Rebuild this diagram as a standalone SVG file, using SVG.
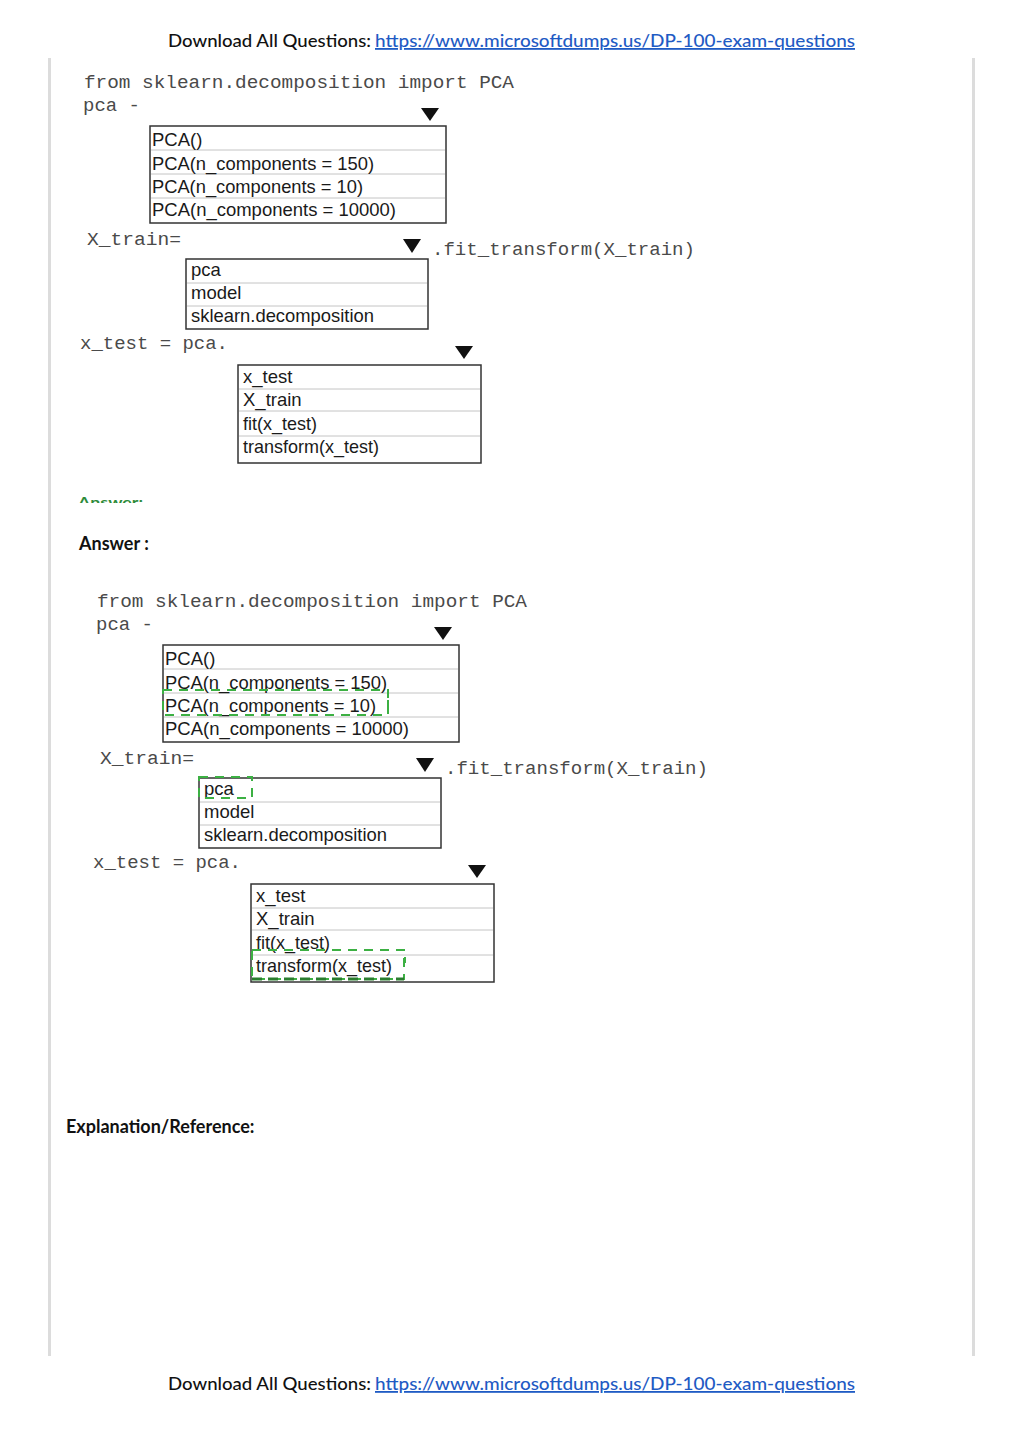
<svg xmlns="http://www.w3.org/2000/svg" width="1024" height="1446" viewBox="0 0 1024 1446">
<style>
.hdr{font-family:Lato,"Open Sans",sans-serif;font-size:18px;font-weight:500;fill:#111;}
.lnk{font-family:Lato,"Open Sans",sans-serif;font-size:18px;font-weight:500;fill:#1f5bc4;text-decoration:underline;}
.code{font-family:"Liberation Mono","Courier New",monospace;font-size:19px;fill:#4a4a4a;}
.opt{font-family:"Liberation Sans",Arial,sans-serif;font-size:18.5px;fill:#1a1a1a;}
.box{fill:#fff;stroke:#333;stroke-width:1.5;}
.sep{stroke:#c4c4c4;stroke-width:1;}
.tri{fill:#111;}
.lbl{font-family:Lato,"Open Sans",sans-serif;font-size:18px;font-weight:bold;fill:#111;}
.hl{fill:none;stroke:#3cb043;stroke-width:2;stroke-dasharray:9 7;}
.tick{stroke:#3cb043;stroke-width:2;}
</style>
<defs>
<clipPath id="cutAns"><rect x="70" y="494" width="90" height="9"/></clipPath>
</defs>
<rect width="1024" height="1446" fill="#fff"/>

<g id="page-frame">
<line x1="49.5" y1="58" x2="49.5" y2="1356" stroke="#dcdcdc" stroke-width="3"/>
<line x1="973.5" y1="58" x2="973.5" y2="1356" stroke="#dcdcdc" stroke-width="3"/>
</g>

<g id="header">
<text class="hdr" x="168" y="47" textLength="203" lengthAdjust="spacingAndGlyphs">Download All Questions:</text>
<text class="lnk" x="375" y="47" textLength="480" lengthAdjust="spacingAndGlyphs">https://www.microsoftdumps.us/DP-100-exam-questions</text>
</g>

<g id="question">
<text class="code" x="84" y="88" textLength="430" lengthAdjust="spacingAndGlyphs">from sklearn.decomposition import PCA</text>
<text class="code" x="83" y="111">pca -</text>
<polygon class="tri" points="421,108 439,108 430,121"/>
<g id="q-box1">
<rect class="box" x="150" y="126" width="296" height="97"/>
<line class="sep" x1="151" y1="150" x2="445" y2="150"/>
<line class="sep" x1="151" y1="174" x2="445" y2="174"/>
<line class="sep" x1="151" y1="198" x2="445" y2="198"/>
<text class="opt" x="152" y="146">PCA()</text>
<text class="opt" x="152" y="170" textLength="222" lengthAdjust="spacingAndGlyphs">PCA(n_components = 150)</text>
<text class="opt" x="152" y="193" textLength="211" lengthAdjust="spacingAndGlyphs">PCA(n_components = 10)</text>
<text class="opt" x="152" y="216" textLength="244" lengthAdjust="spacingAndGlyphs">PCA(n_components = 10000)</text>
</g>
<text class="code" x="87" y="245" textLength="94" lengthAdjust="spacingAndGlyphs">X_train=</text>
<polygon class="tri" points="403,239 421,239 412,253"/>
<text class="code" x="432" y="255" textLength="263" lengthAdjust="spacingAndGlyphs">.fit_transform(X_train)</text>
<g id="q-box2">
<rect class="box" x="186" y="259" width="242" height="70"/>
<line class="sep" x1="187" y1="283" x2="427" y2="283"/>
<line class="sep" x1="187" y1="306" x2="427" y2="306"/>
<text class="opt" x="191" y="276">pca</text>
<text class="opt" x="191" y="299">model</text>
<text class="opt" x="191" y="322" textLength="183" lengthAdjust="spacingAndGlyphs">sklearn.decomposition</text>
</g>
<text class="code" x="80" y="349" textLength="148" lengthAdjust="spacingAndGlyphs">x_test = pca.</text>
<polygon class="tri" points="455,346 473,346 464,359"/>
<g id="q-box3">
<rect class="box" x="238" y="365" width="243" height="98"/>
<line class="sep" x1="239" y1="389" x2="480" y2="389"/>
<line class="sep" x1="239" y1="411" x2="480" y2="411"/>
<line class="sep" x1="239" y1="436" x2="480" y2="436"/>
<text class="opt" x="243" y="383">x_test</text>
<text class="opt" x="243" y="406">X_train</text>
<text class="opt" x="243" y="430" textLength="74" lengthAdjust="spacingAndGlyphs">fit(x_test)</text>
<text class="opt" x="243" y="453" textLength="136" lengthAdjust="spacingAndGlyphs">transform(x_test)</text>
</g>
</g>

<g id="cut-answer-label" clip-path="url(#cutAns)">
<text x="78" y="507" font-family="Lato,sans-serif" font-size="14" font-weight="bold" fill="#2e8b3a" textLength="65" lengthAdjust="spacingAndGlyphs">Answer:</text>
</g>

<g id="answer-label">
<text class="lbl" x="79" y="550">Answer :</text>
</g>

<g id="answer" transform="translate(13,519)">
<text class="code" x="84" y="88" textLength="430" lengthAdjust="spacingAndGlyphs">from sklearn.decomposition import PCA</text>
<text class="code" x="83" y="111">pca -</text>
<polygon class="tri" points="421,108 439,108 430,121"/>
<g id="a-box1">
<rect class="box" x="150" y="126" width="296" height="97"/>
<line class="sep" x1="151" y1="150" x2="445" y2="150"/>
<line class="sep" x1="151" y1="174" x2="445" y2="174"/>
<line class="sep" x1="151" y1="198" x2="445" y2="198"/>
<text class="opt" x="152" y="146">PCA()</text>
<text class="opt" x="152" y="170" textLength="222" lengthAdjust="spacingAndGlyphs">PCA(n_components = 150)</text>
<text class="opt" x="152" y="193" textLength="211" lengthAdjust="spacingAndGlyphs">PCA(n_components = 10)</text>
<text class="opt" x="152" y="216" textLength="244" lengthAdjust="spacingAndGlyphs">PCA(n_components = 10000)</text>
<rect class="hl" x="150" y="171" width="225" height="25"/>
<line class="tick" x1="375" y1="181" x2="375" y2="189"/>
</g>
<text class="code" x="87" y="245" textLength="94" lengthAdjust="spacingAndGlyphs">X_train=</text>
<polygon class="tri" points="403,239 421,239 412,253"/>
<text class="code" x="432" y="255" textLength="263" lengthAdjust="spacingAndGlyphs">.fit_transform(X_train)</text>
<g id="a-box2">
<rect class="box" x="186" y="259" width="242" height="70"/>
<line class="sep" x1="187" y1="283" x2="427" y2="283"/>
<line class="sep" x1="187" y1="306" x2="427" y2="306"/>
<text class="opt" x="191" y="276">pca</text>
<text class="opt" x="191" y="299">model</text>
<text class="opt" x="191" y="322" textLength="183" lengthAdjust="spacingAndGlyphs">sklearn.decomposition</text>
<rect class="hl" x="186" y="258" width="53" height="21" stroke-dasharray="8 6"/>
</g>
<text class="code" x="80" y="349" textLength="148" lengthAdjust="spacingAndGlyphs">x_test = pca.</text>
<polygon class="tri" points="455,346 473,346 464,359"/>
<g id="a-box3">
<rect class="box" x="238" y="365" width="243" height="98"/>
<line class="sep" x1="239" y1="389" x2="480" y2="389"/>
<line class="sep" x1="239" y1="411" x2="480" y2="411"/>
<line class="sep" x1="239" y1="436" x2="480" y2="436"/>
<text class="opt" x="243" y="383">x_test</text>
<text class="opt" x="243" y="406">X_train</text>
<text class="opt" x="243" y="430" textLength="74" lengthAdjust="spacingAndGlyphs">fit(x_test)</text>
<text class="opt" x="243" y="453" textLength="136" lengthAdjust="spacingAndGlyphs">transform(x_test)</text>
<rect class="hl" x="239" y="431" width="152" height="29"/>
<line x1="239" y1="460" x2="391" y2="460" stroke="#2a7d2e" stroke-width="3" stroke-dasharray="10 6"/>
<line class="tick" x1="392" y1="438" x2="392" y2="444"/>
</g>
</g>

<g id="explanation">
<text class="lbl" x="66" y="1133">Explanation/Reference:</text>
</g>

<g id="footer">
<text class="hdr" x="168" y="1390" textLength="203" lengthAdjust="spacingAndGlyphs">Download All Questions:</text>
<text class="lnk" x="375" y="1390" textLength="480" lengthAdjust="spacingAndGlyphs">https://www.microsoftdumps.us/DP-100-exam-questions</text>
</g>

<g id="connectors"></g>
</svg>
